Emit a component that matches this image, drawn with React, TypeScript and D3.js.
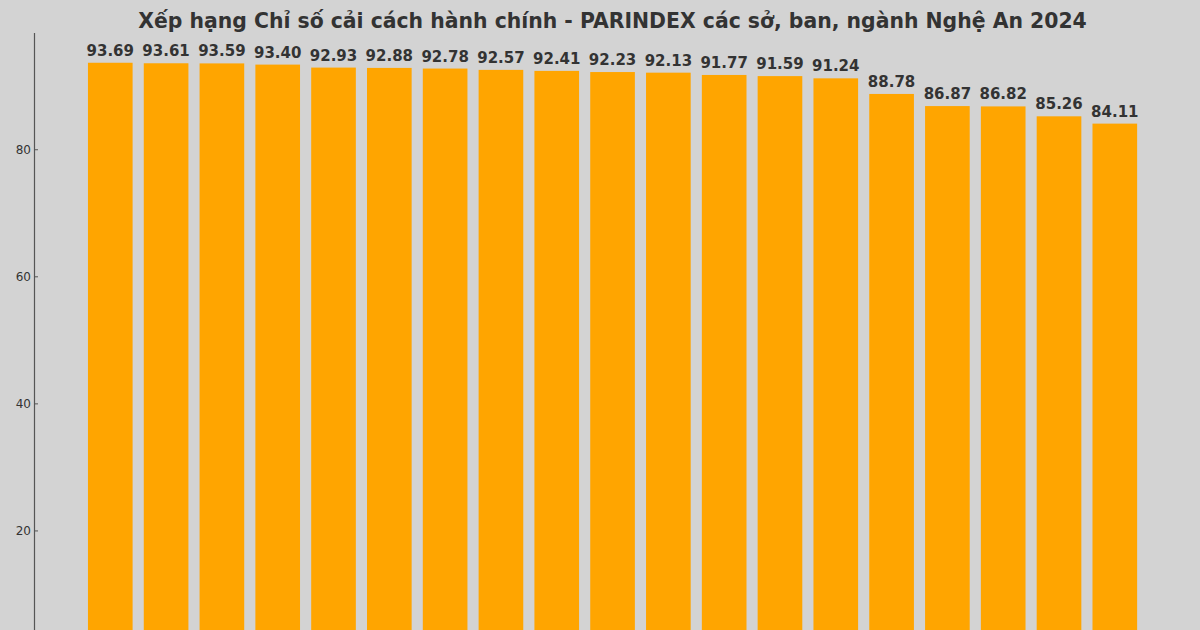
import React from "react";
import * as d3 from "d3";

const categories: string[] = [
  "1", "2", "3", "4", "5", "6", "7", "8", "9", "10",
  "11", "12", "13", "14", "15", "16", "17", "18", "19",
];
const values: number[] = [
  93.69, 93.61, 93.59, 93.4, 92.93, 92.88, 92.78, 92.57, 92.41, 92.23,
  92.13, 91.77, 91.59, 91.24, 88.78, 86.87, 86.82, 85.26, 84.11,
];
const yTicks: number[] = [20, 40, 60, 80];
const title = "Xếp hạng Chỉ số cải cách hành chính - PARINDEX các sở, ban, ngành Nghệ An 2024";

const W = 1200;
const H = 630;
const FONT = "DejaVu Sans, sans-serif";

export default function App() {
  const x = d3
    .scaleBand<string>()
    .domain(categories)
    .range([76.8, 1148.3])
    .paddingInner(0.2)
    .paddingOuter(0.2);
  const yMax = (d3.max(values) as number) * 1.05;
  const y = d3.scaleLinear().domain([0, yMax]).range([658, 33]);

  return (
    <svg
      width={W}
      height={H}
      style={{ position: "fixed", left: 0, top: 0, display: "block" }}
      fontFamily={FONT}
    >
      <rect x={0} y={0} width={W} height={H} fill="#d3d3d3" />
      <text
        x={612.5}
        y={28}
        textAnchor="middle"
        fontSize={20.4}
        fontWeight="bold"
        fill="#333333"
      >
        {title}
      </text>
      {categories.map((c, i) => (
        <g key={c}>
          <rect
            x={x(c)}
            y={y(values[i])}
            width={x.bandwidth()}
            height={y(0) - y(values[i])}
            fill="#ffa500"
          />
          <text
            x={(x(c) as number) + x.bandwidth() / 2}
            y={y(values[i]) - 7}
            textAnchor="middle"
            fontSize={15}
            fontWeight="bold"
            fill="#333333"
          >
            {values[i].toFixed(2)}
          </text>
        </g>
      ))}
      <line x1={34.5} x2={34.5} y1={y(yMax)} y2={H} stroke="#555555" strokeWidth={1.2} />
      {yTicks.map((t) => (
        <g key={t}>
          <line x1={34.5} x2={38} y1={y(t)} y2={y(t)} stroke="#555555" strokeWidth={1} />
          <text
            x={31}
            y={y(t)}
            dy="0.35em"
            textAnchor="end"
            fontSize={12}
            fill="#333333"
          >
            {t}
          </text>
        </g>
      ))}
    </svg>
  );
}
